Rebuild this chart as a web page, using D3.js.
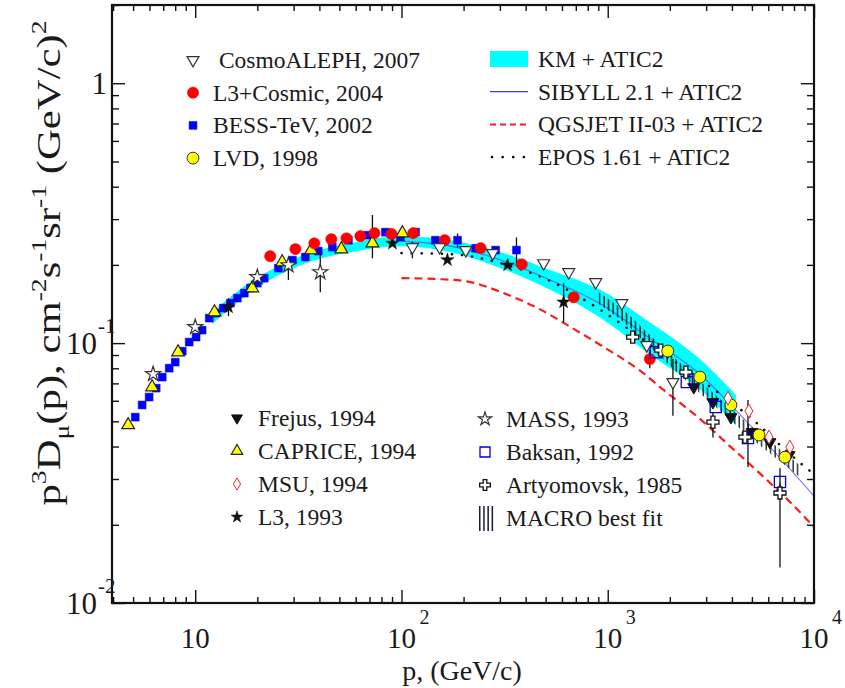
<!DOCTYPE html>
<html>
<head>
<meta charset="utf-8">
<script src="https://cdn.jsdelivr.net/npm/d3@7/dist/d3.min.js"></script>
<style>
	body { margin: 0; background: #fff; }
	svg text { fill: #1a1a1a; }
</style>
</head>
<body>
<svg id="chart" width="845" height="688" font-family="'Liberation Serif', 'Times New Roman', Tinos, 'DejaVu Serif', serif"></svg>
<script>
// measured points: [p (GeV/c), p^3 D, error low, error high]
var bessTeV = [[5.12,0.0519],[5.53,0.0578],[5.98,0.0620],[6.47,0.0671],[6.92,0.0740],[7.48,0.0801],[8.00,0.0845],[8.65,0.0931],[9.35,0.1009],[10.1,0.1055],[10.8,0.1122],[11.7,0.1248],[12.6,0.1304],[13.7,0.1364],[14.8,0.1425],[16.0,0.1490],[17.3,0.1557],[18.5,0.1628],[20.0,0.1701],[21.6,0.1778],[25.3,0.1943],[29.6,0.2086],[34.2,0.2143],[39.5,0.2260],[46.2,0.2340],[55.3,0.2489],[68.4,0.2602],[83.6,0.2673],[98.9,0.2558],[117,0.2673],[146,0.2489],[187,0.2489,0.2330,0.2640],[229,0.2317],[286,0.2280],[361,0.2280,0.200,0.255]];
var caprice = [[4.73,0.0484],[6.18,0.0677],[8.26,0.0923],[12.4,0.1316],[18.9,0.1628],[26.4,0.2050],[36.5,0.2280],[51.1,0.2299],[72.3,0.2425,0.212,0.311],[101,0.2649]];
var mass = [[6.25,0.0760],[10.0,0.1153],[20.0,0.1794],[28.3,0.1995,0.175,0.205],[40.4,0.1875,0.157,0.222]];
var l3 = [[14.5,0.1376,0.127,0.149],[90.4,0.242],[167,0.209],[327,0.1995],[611,0.1438,0.120,0.170]];
var l3Cosmic = [[23.1,0.216],[30.6,0.230],[37.8,0.242],[45.7,0.251],[54.1,0.253],[63.2,0.258],[74.0,0.265],[89.4,0.263],[114,0.265],[162,0.249],[242,0.232],[383,0.201],[684,0.150],[1600,0.0868,0.080,0.094]];
var cosmoAleph = [[113,0.234,0.212,0.245],[153,0.234],[205,0.228],[277,0.222],[489,0.203],[647,0.1875],[874,0.1716],[1170,0.1425],[1546,0.0982],[2070,0.0708,0.0525,0.0868]];
var frejus = [[2612,0.0677],[3234,0.0593],[3956,0.0519],[5003,0.0455],[6115,0.0416],[7566,0.0371]];
var lvd = [[1954,0.0932],[2797,0.0740],[3956,0.0578],[5410,0.0443],[7230,0.0364]];
var msu = [[3828,0.0614],[4834,0.0548],[6050,0.0435],[7640,0.0398]];
var baksan = [[1710,0.0923],[2417,0.0708],[3340,0.0568],[4785,0.0431,0.0334,0.0604],[6840,0.0292,0.0250,0.0330]];
var artyomovsk = [[1321,0.1055],[1808,0.0940],[2393,0.0773],[3236,0.0497,0.0433,0.0541],[4627,0.0435],[6840,0.0265,0.0137,0.0290]];

// model curves
var kmP = [12.1, 18.5, 32.4, 56.5, 98.9, 173, 303, 529, 925, 1618, 2827, 4180];
var kmHigh = [0.1316, 0.1717, 0.2161, 0.2424, 0.2580, 0.2489, 0.2239, 0.1909, 0.1600, 0.1194, 0.0861, 0.0631];
var kmLow = [0.1184, 0.1571, 0.1995, 0.2239, 0.2361, 0.2239, 0.1943, 0.1600, 0.1248, 0.0899, 0.0660, 0.0484];

var sibyllP = [100, 173, 303, 529, 925, 1618, 2827, 4180, 6180, 10000];
var sibyllY = [0.2468, 0.2361, 0.2086, 0.1746, 0.1413, 0.1036, 0.0754, 0.0552, 0.0395, 0.0258];

var qgsjetP = [100, 155, 216, 313, 457, 661, 957, 1446, 1870, 2735, 3956, 5718, 8357, 10000];
var qgsjetY = [0.1778, 0.1762, 0.1717, 0.1557, 0.1364, 0.1153, 0.0965, 0.0780, 0.0659, 0.0519, 0.0398, 0.0305, 0.0228, 0.0196];

var eposP = [100, 173, 303, 529, 925, 1618, 2827, 4950, 7730, 10000];
var eposY = [0.222, 0.220, 0.203, 0.173, 0.134, 0.0982, 0.0721, 0.0515, 0.0371, 0.0313];

var macroP = [904, 1222, 1618, 2140, 2827, 3740, 4945, 6540, 8650];
var macroHigh = [0.157, 0.1316, 0.1064, 0.0868, 0.0708, 0.0583, 0.0480, 0.0402, 0.0336];
var macroLow = [0.1413, 0.1184, 0.0957, 0.0780, 0.0637, 0.0524, 0.0431, 0.0361, 0.0303];

var xMajor = [10, 100, 1000, 10000];
var xLabels = [["10", ""], ["10", "2"], ["10", "3"], ["10", "4"]];
var yMajor = [1, 0.1, 0.01];
var yLabels = [["1", ""], ["10", "-1"], ["10", "-2"]];

var svg = d3.select("#chart");

var x = d3.scaleLog().domain([3.95, 10000]).range([112, 814]);
var y = d3.scaleLog().domain([0.01, 2.0]).range([603, 5]);

var styles = {
	cosmo : { type: d3.symbolTriangle, size: 62, fill: "#fff", stroke: "#333", sw: 1.2, rot: 180 },
	l3c : { type: d3.symbolCircle, size: 100, fill: "#ff0000", stroke: "#ff0000", sw: 0.5 },
	bess : { type: d3.symbolSquare, size: 62, fill: "#0000ff", stroke: "#0000ff", sw: 0.5 },
	lvd : { type: d3.symbolCircle, size: 110, fill: "#ffff00", stroke: "#333", sw: 1 },
	frejus : { type: d3.symbolTriangle, size: 62, fill: "#111", stroke: "#111", sw: 1, rot: 180 },
	caprice : { type: d3.symbolTriangle, size: 70, fill: "#ffff00", stroke: "#222", sw: 1.2 },
	msu : { type: d3.symbolDiamond, size: 55, fill: "#fff", stroke: "#ee2020", sw: 1 },
	l3 : { type: d3.symbolStar, size: 55, fill: "#111", stroke: "#111", sw: 0.5 },
	mass : { type: d3.symbolStar, size: 70, fill: "#fff", stroke: "#333", sw: 1.2 },
	baksan : { type: d3.symbolSquare, size: 125, fill: "none", stroke: "#0000dd", sw: 1.3 },
	arty : { type: d3.symbolCross, size: 80, fill: "#fff", stroke: "#111", sw: 1.3 }
};

function logCurve(px, py) {
	return px.map(function(p, i) { return [p, py[i]]; });
}

// KM + ATIC2 band
var band = d3.area()
	.x(function(d) { return x(d[0]); })
	.y0(function(d) { return y(d[1]); })
	.y1(function(d) { return y(d[2]); })
	.curve(d3.curveMonotoneX);

svg.append("path")
	.datum(kmP.map(function(p, i) { return [p, kmLow[i], kmHigh[i]]; }))
	.attr("d", band)
	.attr("fill", "#00ffff");

var line = d3.line()
	.x(function(d) { return x(d[0]); })
	.y(function(d) { return y(d[1]); })
	.curve(d3.curveMonotoneX);

svg.append("path")
	.datum(logCurve(sibyllP, sibyllY))
	.attr("d", line)
	.attr("fill", "none")
	.attr("stroke", "#5050e0")
	.attr("stroke-opacity", 0.75)
	.attr("stroke-width", 1.1);

svg.append("path")
	.datum(logCurve(qgsjetP, qgsjetY))
	.attr("d", line)
	.attr("fill", "none")
	.attr("stroke", "#ff1a1a")
	.attr("stroke-width", 2.2)
	.attr("stroke-dasharray", "8,5");

svg.append("path")
	.datum(logCurve(eposP, eposY))
	.attr("d", line)
	.attr("fill", "none")
	.attr("stroke", "#111")
	.attr("stroke-width", 2.6)
	.attr("stroke-linecap", "round")
	.attr("stroke-dasharray", "0.1,10");

// MACRO best fit, hatched with vertical strokes
var defs = svg.append("defs");

defs.append("pattern")
	.attr("id", "hatch")
	.attr("patternUnits", "userSpaceOnUse")
	.attr("width", 4.5)
	.attr("height", 10)
	.append("rect")
	.attr("x", 0.5)
	.attr("y", 0)
	.attr("width", 1.3)
	.attr("height", 10)
	.attr("fill", "#111");

svg.append("path")
	.datum(macroP.map(function(p, i) { return [p, macroLow[i], macroHigh[i]]; }))
	.attr("d", band)
	.attr("fill", "url(#hatch)");

// data points
function drawSeries(data, st) {
	var g = svg.append("g");

	g.selectAll(".err")
		.data(data.filter(function(d) { return d.length > 2; }))
		.enter().append("line")
		.attr("x1", function(d) { return x(d[0]); })
		.attr("x2", function(d) { return x(d[0]); })
		.attr("y1", function(d) { return y(d[2]); })
		.attr("y2", function(d) { return y(d[3]); })
		.attr("stroke", "#111")
		.attr("stroke-width", 1.3);

	g.selectAll(".pt")
		.data(data)
		.enter().append("path")
		.attr("d", d3.symbol().type(st.type).size(st.size))
		.attr("transform", function(d) {
			return "translate(" + x(d[0]) + "," + y(d[1]) + ")" + (st.rot ? " rotate(" + st.rot + ")" : "");
		})
		.attr("fill", st.fill)
		.attr("stroke", st.stroke)
		.attr("stroke-width", st.sw);
}

drawSeries(bessTeV, styles.bess);
drawSeries(caprice, styles.caprice);
drawSeries(mass, styles.mass);
drawSeries(l3, styles.l3);
drawSeries(l3Cosmic, styles.l3c);
drawSeries(cosmoAleph, styles.cosmo);
drawSeries(frejus, styles.frejus);
drawSeries(baksan, styles.baksan);
drawSeries(artyomovsk, styles.arty);
drawSeries(lvd, styles.lvd);
drawSeries(msu, styles.msu);

// axes, ticks pointing inward on all four sides
function minorTicks(lo, hi) {
	var t = [];
	for (var e = lo; e < hi; e++) {
		for (var k = 2; k < 10; k++) t.push(k * Math.pow(10, e));
	}
	return t;
}

var xMinor = minorTicks(0, 4).filter(function(v) { return v > 3.95; });
var yMinor = minorTicks(-2, 1).filter(function(v) { return v <= 2; });

function addAxis(axis, tr, vals, len) {
	svg.append("g")
		.attr("transform", tr)
		.call(axis.tickValues(vals).tickSizeInner(-len).tickSizeOuter(0).tickFormat(""))
		.call(function(g) { g.select(".domain").remove(); })
		.selectAll("line")
		.attr("stroke", "#111")
		.attr("stroke-width", 1.4);
}

addAxis(d3.axisBottom(x), "translate(0,603)", xMajor, 13);
addAxis(d3.axisBottom(x), "translate(0,603)", xMinor, 6);
addAxis(d3.axisTop(x), "translate(0,5)", xMajor, 13);
addAxis(d3.axisTop(x), "translate(0,5)", xMinor, 6);
addAxis(d3.axisLeft(y), "translate(112,0)", yMajor, 13);
addAxis(d3.axisLeft(y), "translate(112,0)", yMinor, 7);
addAxis(d3.axisRight(y), "translate(814,0)", yMajor, 13);
addAxis(d3.axisRight(y), "translate(814,0)", yMinor, 7);

svg.append("rect")
	.attr("x", 112)
	.attr("y", 5)
	.attr("width", 702)
	.attr("height", 598)
	.attr("fill", "none")
	.attr("stroke", "#111")
	.attr("stroke-width", 2.2);

// tick labels
xMajor.forEach(function(v, i) {
	svg.append("text")
		.attr("x", x(v))
		.attr("y", 648)
		.attr("font-size", 29)
		.attr("text-anchor", "middle")
		.text(xLabels[i][0]);

	if (xLabels[i][1]) {
		svg.append("text")
			.attr("x", x(v) + 18)
			.attr("y", 624)
			.attr("font-size", 20)
			.text(xLabels[i][1]);
	}
});

yMajor.forEach(function(v, i) {
	svg.append("text")
		.attr("x", yLabels[i][1] ? 97 : 107)
		.attr("y", y(v) + 11)
		.attr("font-size", 31)
		.attr("text-anchor", "end")
		.text(yLabels[i][0]);

	if (yLabels[i][1]) {
		svg.append("text")
			.attr("x", 98)
			.attr("y", y(v) - 10)
			.attr("font-size", 21)
			.text(yLabels[i][1]);
	}
});

// axis titles
svg.append("text")
	.attr("x", 462)
	.attr("y", 680)
	.attr("font-size", 28)
	.attr("text-anchor", "middle")
	.text("p, (GeV/c)");

var yTitle = [["p", 0], ["3", 1], ["D", 0], ["\u03bc", -1], ["(p), cm", 0], ["-2", 1], ["s", 0], ["-1", 1], ["sr", 0], ["-1", 1], [" (GeV/c)", 0], ["2", 1]];

var yt = svg.append("text")
	.attr("transform", "translate(60,263) rotate(-90)")
	.attr("font-size", 34)
	.attr("text-anchor", "middle")
	.attr("textLength", 485)
	.attr("lengthAdjust", "spacingAndGlyphs");

var level = 0;

yTitle.forEach(function(part) {
	var shift = { "1": -14, "0": 0, "-1": 9 }[part[1]];

	yt.append("tspan")
		.attr("dy", shift - level)
		.attr("font-size", part[1] ? 22 : 34)
		.text(part[0]);

	level = shift;
});

// legends
var legendTop = [
	[" CosmoALEPH, 2007", styles.cosmo],
	["L3+Cosmic, 2004", styles.l3c],
	["BESS-TeV, 2002", styles.bess],
	["LVD, 1998", styles.lvd]
];
var legendBottomLeft = [
	["Frejus, 1994", styles.frejus],
	["CAPRICE, 1994", styles.caprice],
	["MSU, 1994", styles.msu],
	["L3, 1993", styles.l3]
];
var legendBottomRight = [
	["MASS, 1993", styles.mass],
	["Baksan, 1992", styles.baksan],
	["Artyomovsk, 1985", styles.arty],
	["MACRO best fit", null]
];
var legendModels = ["KM + ATIC2", "SIBYLL 2.1 + ATIC2", "QGSJET II-03 + ATIC2", "EPOS 1.61 + ATIC2"];

function addLegend(items, mx, tx, y0, step, scale) {
	items.forEach(function(item, i) {
		var cy = y0 + i * step;
		var st = item[1];

		if (st) {
			svg.append("path")
				.attr("d", d3.symbol().type(st.type).size(st.size * scale))
				.attr("transform", "translate(" + mx + "," + cy + ")" + (st.rot ? " rotate(" + st.rot + ")" : ""))
				.attr("fill", st.fill)
				.attr("stroke", st.stroke)
				.attr("stroke-width", st.sw);
		} else {
			for (var k = 0; k < 4; k++) {
				svg.append("rect")
					.attr("x", mx - 6 + k * 4.2)
					.attr("y", cy - 12)
					.attr("width", 1.5)
					.attr("height", 25)
					.attr("fill", "#1a1a3a");
			}
		}

		svg.append("text")
			.attr("x", tx)
			.attr("y", cy + 8)
			.attr("font-size", 23.5)
			.style("white-space", "pre")
			.text(item[0]);
	});
}

addLegend(legendTop, 193, 213, 60, 32.7, 1);
addLegend(legendBottomLeft, 237, 258, 418, 33, 0.8);
addLegend(legendBottomRight, 485, 506, 419, 33, 0.8);

legendModels.forEach(function(name, i) {
	var cy = 59 + i * 32.7;

	if (i == 0) {
		svg.append("rect")
			.attr("x", 490).attr("y", cy - 8).attr("width", 38).attr("height", 16)
			.attr("fill", "#00ffff");
	} else {
		var ln = svg.append("line")
			.attr("x1", 490).attr("x2", 528).attr("y1", cy).attr("y2", cy);

		if (i == 1) ln.attr("stroke", "#4040d0").attr("stroke-width", 1.2);
		if (i == 2) ln.attr("stroke", "#ff1a1a").attr("stroke-width", 2).attr("stroke-dasharray", "6,4");
		if (i == 3) ln.attr("stroke", "#111").attr("stroke-width", 2.6).attr("stroke-linecap", "round").attr("stroke-dasharray", "0.1,10.5").attr("x1", 492);
	}

	svg.append("text")
		.attr("x", 538)
		.attr("y", cy + 8)
		.attr("font-size", 23.5)
		.text(name);
});
</script>
</body>
</html>
